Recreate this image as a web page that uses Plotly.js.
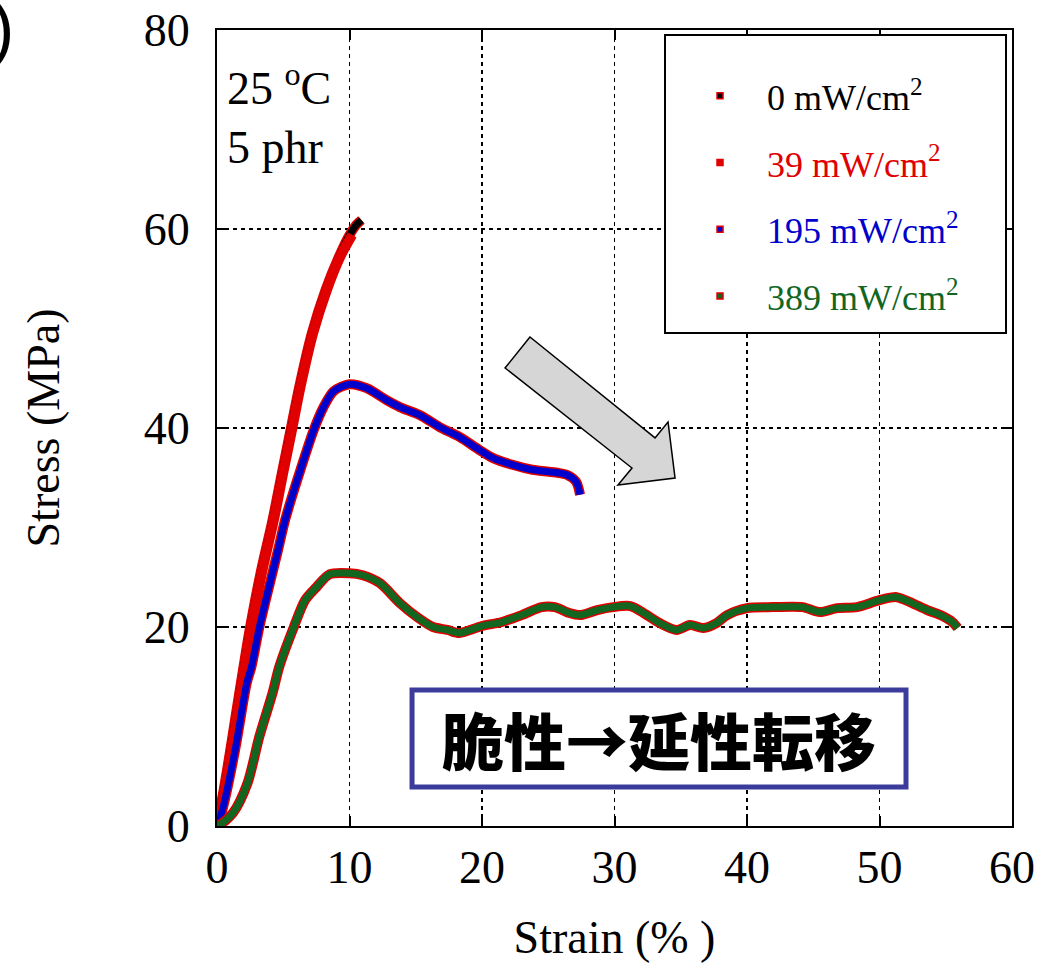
<!DOCTYPE html>
<html>
<head>
<meta charset="utf-8">
<script src="https://cdn.plot.ly/plotly-3.0.1.min.js"></script>
<style>html,body{margin:0;padding:0;background:#fff;}#chart{width:1049px;height:963px;}</style>
</head>
<body>
<div id="chart"></div>
<script>
// ---- data ----
const seriesNames = ["0 mW/cm<sup>2</sup>", "39 mW/cm<sup>2</sup>", "195 mW/cm<sup>2</sup>", "389 mW/cm<sup>2</sup>"];
const seriesColors = ["#000000", "#e00000", "#0000cc", "#13661f"];

const strain0 = [0, 0.2, 0.5, 1.0, 1.4, 2.0, 2.5, 3.3, 4.2, 4.9, 5.55, 6.2, 7.15, 8.2, 9.2, 10.0, 10.5, 10.9];
const stress0 = [0, 1.5, 3.6, 7.6, 11.0, 16.0, 20.0, 25.5, 30.8, 35.5, 39.8, 44.1, 49.5, 53.9, 57.2, 59.4, 60.4, 60.9];

const strain39 = [0, 0.3, 0.6, 1.1, 1.5, 2.1, 2.6, 3.4, 4.3, 5.0, 5.66, 6.3, 7.25, 8.3, 9.3, 10.2];
const stress39 = [0, 1.5, 3.6, 7.6, 11.0, 16.0, 20.0, 25.5, 30.8, 35.5, 39.8, 44.1, 49.5, 53.9, 57.2, 59.4];

const strain195 = [0, 0.4, 1.36, 2.25, 2.6, 3.2, 4.6, 5.15, 6.3, 7.3, 8.0, 8.8, 10.0, 11.3, 12.8, 13.8, 15.3, 16.8, 18.3, 19.8, 20.8, 22.3, 23.8, 25.7, 26.4, 27.1, 27.4];
const stress195 = [0, 1.6, 7.6, 14.4, 16.0, 20.0, 27.7, 30.8, 35.8, 39.8, 42.0, 43.7, 44.4, 44.0, 42.8, 42.1, 41.3, 40.1, 39.1, 37.8, 37.0, 36.3, 35.8, 35.5, 35.3, 34.6, 33.3];

const strain389 = [0, 0.2, 1.2, 2.3, 3.2, 4.2, 4.7, 5.8, 6.65, 7.5, 8.5, 10.0, 11.0, 12.3, 13.8, 15.1, 16.3, 17.4, 18.3, 20.0, 21.5, 23.0, 24.5, 25.5, 26.6, 27.4, 28.7, 29.9, 31.2, 32.2, 33.4, 34.7, 35.7, 36.7, 37.7, 38.5, 40.0, 42.0, 44.2, 45.5, 46.8, 48.3, 50.0, 51.3, 52.3, 53.6, 54.6, 55.5, 55.9];
const stress389 = [0, 0.1, 1.3, 4.3, 9.0, 13.4, 16.0, 20.0, 22.7, 24.0, 25.3, 25.4, 25.2, 24.4, 22.4, 21.0, 20.0, 19.7, 19.4, 20.1, 20.5, 21.2, 22.0, 22.0, 21.4, 21.2, 21.7, 22.0, 22.1, 21.4, 20.4, 19.7, 20.2, 19.9, 20.4, 21.2, 21.9, 22.0, 22.0, 21.5, 21.9, 22.0, 22.7, 23.0, 22.5, 21.7, 21.2, 20.5, 19.9];

const xTicks = [0, 10, 20, 30, 40, 50, 60];
const yTicks = [0, 20, 40, 60, 80];

const allX = [strain0, strain39, strain195, strain389];
const allY = [stress0, stress39, stress195, stress389];

const edgeColor = "#e00000";
const traces = [];
for (let i = 0; i < 4; i++) {
  // red marker outline look
  traces.push({
    x: allX[i], y: allY[i], type: "scatter", mode: "lines",
    line: {color: edgeColor, width: 10, shape: "spline", smoothing: 0.8},
    showlegend: false, hoverinfo: "skip"
  });
  traces.push({
    x: allX[i], y: allY[i], type: "scatter", mode: "lines",
    line: {color: seriesColors[i], width: 7, shape: "spline", smoothing: 0.8},
    showlegend: false
  });
}
// legend-only entries (small square markers with red outline)
for (let i = 0; i < 4; i++) {
  traces.push({
    x: [null], y: [null], type: "scatter", mode: "markers",
    name: '<span style="color:' + seriesColors[i] + '">' + seriesNames[i] + '</span>',
    legendgroup: "g" + i,
    marker: {symbol: "square", size: 6, color: seriesColors[i], line: {color: edgeColor, width: 1.5}}
  });
}

const serif = "Liberation Serif, Times New Roman, serif";
const layout = {
  width: 1049, height: 963,
  margin: {l: 217, r: 37, t: 30, b: 137},
  paper_bgcolor: "#fff", plot_bgcolor: "#fff",
  font: {family: serif, size: 46, color: "#000"},
  xaxis: {
    range: [0, 60], tickvals: xTicks, ticktext: xTicks.map(String),
    showline: true, linecolor: "#000", linewidth: 2, mirror: "allticks",
    ticks: "inside", ticklen: 10, tickwidth: 2, tickcolor: "#000",
    showgrid: true, gridcolor: "#000", gridwidth: 1.6, griddash: "4px,4px",
    zeroline: false, ticklabelstandoff: 0,
    tickfont: {family: serif, size: 46, color: "#000"},
    title: {text: "Strain (% )", font: {family: serif, size: 46, color: "#000"}, standoff: 40}
  },
  yaxis: {
    range: [0, 80], tickvals: yTicks, ticktext: yTicks.map(String),
    showline: true, linecolor: "#000", linewidth: 2, mirror: "allticks",
    ticks: "inside", ticklen: 10, tickwidth: 2, tickcolor: "#000",
    showgrid: true, gridcolor: "#000", gridwidth: 1.6, griddash: "4px,4px",
    zeroline: false, ticklabelstandoff: 16,
    tickfont: {family: serif, size: 46, color: "#000"},
    title: {text: "Stress (MPa)", font: {family: serif, size: 46, color: "#000"}, standoff: 70}
  },
  showlegend: true,
  legend: {
    x: 0.5736, y: 0.955, xanchor: "left", yanchor: "top",
    bgcolor: "rgba(0,0,0,0)", borderwidth: 0,
    font: {family: serif, size: 36, color: "#000"},
    itemwidth: 84, tracegroupgap: 17, traceorder: "grouped"
  },
  shapes: [
    // legend frame
    {type: "rect", xref: "paper", yref: "paper",
     x0: (665 - 217) / 795, x1: (1006 - 217) / 795, y0: (826 - 333) / 796, y1: (826 - 35) / 796,
     line: {color: "#000", width: 2}, fillcolor: "#fff", layer: "above"},
    // text box
    {type: "rect", xref: "x", yref: "y", x0: 14.72, x1: 52.0, y0: 3.92, y1: 13.67,
     line: {color: "#3b3b9b", width: 5}, fillcolor: "#fff", layer: "above"},
    // gray arrow
    {type: "path", xref: "x", yref: "y",
     path: "M 23.62 49.15 L 21.74 46.03 L 31.32 35.98 L 30.26 34.27 L 34.57 34.97 L 34.04 40.60 L 33.06 39.00 Z",
     line: {color: "#000", width: 1.5}, fillcolor: "#d6d6d6", layer: "above"}
  ],
  annotations: [
    {xref: "paper", yref: "paper", x: 0.01, y: 0.931, xanchor: "left", yanchor: "middle",
     text: "25 <sup>o</sup>C", showarrow: false, font: {family: serif, size: 46, color: "#000"}},
    {xref: "paper", yref: "paper", x: 0.01, y: 0.852, xanchor: "left", yanchor: "middle",
     text: "5 phr", showarrow: false, font: {family: serif, size: 46, color: "#000"}},
    {xref: "x", yref: "y", x: 33.36, y: 8.79, xanchor: "center", yanchor: "middle",
     text: "脆性→延性転移", showarrow: false,
     font: {family: "Noto Sans CJK JP", size: 62, color: "#000", weight: 900}},
    {xref: "paper", yref: "paper", x: (16 - 217) / 795, y: (826 - 28) / 796, xanchor: "right", yanchor: "middle",
     text: ")", showarrow: false, font: {family: "Liberation Sans, Arial, sans-serif", size: 70, color: "#000"}}
  ]
};

Plotly.newPlot("chart", traces, layout, {displayModeBar: false, staticPlot: true});
</script>
</body>
</html>
